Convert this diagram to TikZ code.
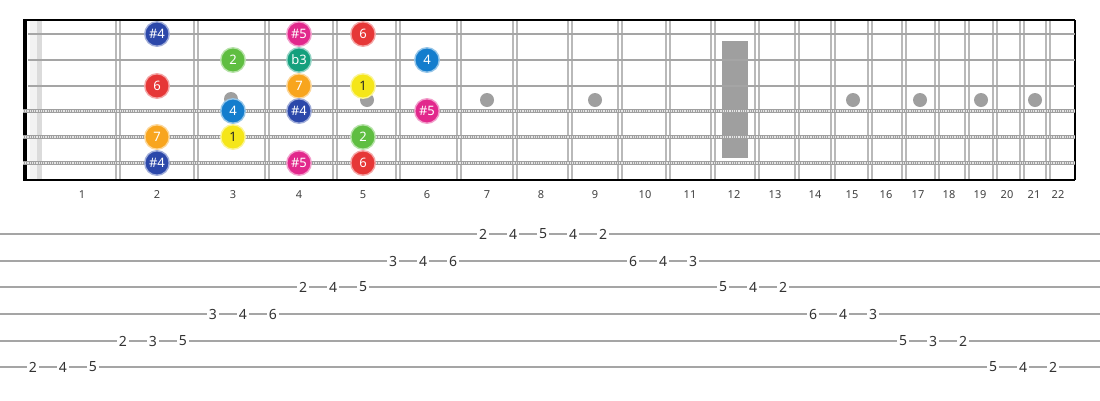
\documentclass[tikz,border=0pt]{standalone}
\usepackage{fontspec}
\setmainfont{Noto Sans}
\definecolor{cblue}{RGB}{44,72,170}
\definecolor{cmag}{RGB}{226,40,140}
\definecolor{cred}{RGB}{230,55,55}
\definecolor{cgreen}{RGB}{95,190,65}
\definecolor{cteal}{RGB}{20,160,125}
\definecolor{ccyan}{RGB}{20,125,205}
\definecolor{corange}{RGB}{248,165,30}
\definecolor{cyellow}{RGB}{245,230,25}
\definecolor{strg}{RGB}{165,165,165}
\definecolor{fretg}{RGB}{185,185,185}
\tikzset{
  note/.style={circle, minimum size=24.5pt, inner sep=0pt, line width=1.4pt,
    font=\fontsize{13}{13}\selectfont, text=white, fill=#1, draw=#1!45!white},
  notey/.style={note=cyellow, text=black!85},
  fretnum/.style={font=\fontsize{11}{11}\selectfont, text=black!75},
  tabn/.style={fill=white, inner sep=1.8pt, font=\fontsize{14}{14}\selectfont, text=black!80},
  plainstr/.style={strg, line width=2.4pt},
  woundstr/.style={gray!75, line width=3.6pt},
  woundpat/.style={white!80!gray, line width=1.4pt, dash pattern=on 0.9pt off 0.9pt},
  fretline/.style={fretg, line width=1.5pt},
  inlay/.style={circle, fill=gray!75, minimum size=14pt, inner sep=0pt},
  tabline/.style={strg, line width=2pt}
}
\begin{document}
\begin{tikzpicture}[x=1pt,y=-1pt]
\useasboundingbox (0,0) rectangle (1100,400);
% nut band
\fill[gray!10] (30,20) rectangle (37,180);
\fill[gray!28] (37,20) rectangle (42,180);
% frets
\foreach \f in {118,196,267,335,398,459,515,570,620,668,713,757,797,833,870,904,937,967,995,1022,1048}{
  \draw[fretline] (\f-1.8,20) -- (\f-1.8,180);
  \draw[fretline] (\f+1.8,20) -- (\f+1.8,180);
}
% inlays
\node[inlay] (d3) at (231,99) {};
\node[inlay] (d5) at (367,100) {};
\node[inlay] (d7) at (487,100) {};
\node[inlay] (d9) at (595,100) {};
\node[inlay] (d15) at (853,100) {};
\node[inlay] (d17) at (920,100) {};
\node[inlay] (d19) at (981,100) {};
\node[inlay] (d21) at (1035,100) {};
\fill[gray!75] (722,41) rectangle (748,158);
% borders
\draw[black, line width=4pt] (25,20) -- (25,180);
\draw[black, line width=2pt] (23,20) -- (1075,20);
\draw[black, line width=2pt] (23,180) -- (1075,180);
\draw[black, line width=1.4pt] (1075,20) -- (1075,180);
% strings
\draw[plainstr] (28,34) -- (1075,34);
\draw[plainstr] (28,60) -- (1075,60);
\draw[plainstr] (28,86) -- (1075,86);
\foreach \y in {111,137,163}{
  \draw[woundstr] (23,\y) -- (1075,\y);
  \draw[woundpat] (23,\y) -- (1075,\y);
}
% fret numbers
\foreach \x/\n in {82/1,157/2,233/3,299/4,363/5,427/6,487/7,541/8,595/9,645/10,690/11,734/12,775/13,815/14,852/15,886/16,918/17,949/18,980/19,1007/20,1034/21,1058/22}{
  \node[fretnum] (fn\n) at (\x,195) {\n};
}
% notes string 1
\node[note=cblue] (s1f2) at (157,34) {\#4};
\node[note=cmag] (s1f4) at (299,34) {\#5};
\node[note=cred] (s1f5) at (363,34) {6};
% string 2
\node[note=cgreen] (s2f3) at (233,60) {2};
\node[note=cteal] (s2f4) at (299,60) {b3};
\node[note=ccyan] (s2f6) at (427,60) {4};
% string 3
\node[note=cred] (s3f2) at (157,86) {6};
\node[note=corange] (s3f4) at (299,86) {7};
\node[notey] (s3f5) at (363,86) {1};
% string 4
\node[note=ccyan] (s4f3) at (233,111) {4};
\node[note=cblue] (s4f4) at (299,111) {\#4};
\node[note=cmag] (s4f6) at (427,111) {\#5};
% string 5
\node[note=corange] (s5f2) at (157,137) {7};
\node[notey] (s5f3) at (233,137) {1};
\node[note=cgreen] (s5f5) at (363,137) {2};
% string 6
\node[note=cblue] (s6f2) at (157,163) {\#4};
\node[note=cmag] (s6f4) at (299,163) {\#5};
\node[note=cred] (s6f5) at (363,163) {6};
% tab lines
\foreach \y in {234,261,287,314,341,367}{
  \draw[tabline] (0,\y) -- (1100,\y);
}
% tab numbers
\foreach \x/\t [count=\i] in {483/2,513/4,543/5,573/4,603/2}{ \node[tabn] (ta\i) at (\x,234) {\t}; }
\foreach \x/\t [count=\i] in {393/3,423/4,453/6,633/6,663/4,693/3}{ \node[tabn] (tb\i) at (\x,261) {\t}; }
\foreach \x/\t [count=\i] in {303/2,333/4,363/5,723/5,753/4,783/2}{ \node[tabn] (tc\i) at (\x,287) {\t}; }
\foreach \x/\t [count=\i] in {213/3,243/4,273/6,813/6,843/4,873/3}{ \node[tabn] (td\i) at (\x,314) {\t}; }
\foreach \x/\t [count=\i] in {123/2,153/3,183/5,903/5,933/3,963/2}{ \node[tabn] (te\i) at (\x,341) {\t}; }
\foreach \x/\t [count=\i] in {33/2,63/4,93/5,993/5,1023/4,1053/2}{ \node[tabn] (tf\i) at (\x,367) {\t}; }
\end{tikzpicture}
\end{document}
